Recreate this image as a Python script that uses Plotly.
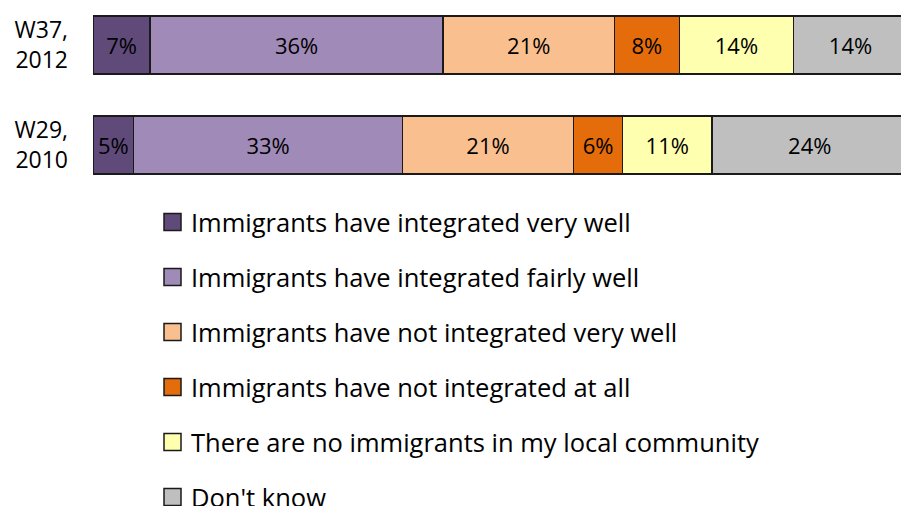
import plotly.graph_objects as go

# Survey waves (top row first in the chart)
waves = ["W37,<br>2012", "W29,<br>2010"]

# Answer categories, in stacking order
answers = [
    "Immigrants have integrated very well",
    "Immigrants have integrated fairly well",
    "Immigrants have not integrated very well",
    "Immigrants have not integrated at all",
    "There are no immigrants in my local community",
    "Don't know",
]

# Share of respondents (%) per answer, one entry per wave
very_well = [7, 5]
fairly_well = [36, 33]
not_very_well = [21, 21]
not_at_all = [8, 6]
no_immigrants = [14, 11]
dont_know = [14, 24]

colors = ["#5F4A7A", "#A08AB8", "#F9BF8F", "#E46C0A", "#FFFFB0", "#BFBFBF"]
series = [very_well, fairly_well, not_very_well, not_at_all, no_immigrants, dont_know]

FONT = "Open Sans"
OUTLINE = "#1a1a1a"

# Layout geometry (pixels)
W, H = 901, 506
M_L, M_T, PLOT_H = 93, 0, 190
PLOT_W = W - M_L

fig = go.Figure()
for name, vals, col in zip(answers, series, colors):
    fig.add_trace(go.Bar(
        y=waves,
        x=vals,
        name=name,
        orientation="h",
        width=0.58,
        marker=dict(color=col, line=dict(color=OUTLINE, width=1.5)),
        text=[f"{v}%" for v in vals],
        textposition="inside",
        insidetextanchor="middle",
        textangle=0,
        constraintext="none",
        insidetextfont=dict(family=FONT, size=22, color="#000000"),
        showlegend=False,
        hoverinfo="skip",
    ))

# Legend drawn below the bars: one swatch + label per answer
legend_rows_px = [222, 277, 332, 387, 442, 497]
sw_x0, sw_x1, label_x = 164, 181, 189
sw_half = 8.5


def px_x(px):
    return (px - M_L) / PLOT_W


def px_y(py):
    return (M_T + PLOT_H - py) / PLOT_H


shapes, annotations = [], []
for name, col, cy in zip(answers, colors, legend_rows_px):
    shapes.append(dict(
        type="rect", xref="paper", yref="paper",
        x0=px_x(sw_x0), x1=px_x(sw_x1),
        y0=px_y(cy + sw_half), y1=px_y(cy - sw_half),
        fillcolor=col, line=dict(color=OUTLINE, width=1.5),
        layer="above",
    ))
    annotations.append(dict(
        xref="paper", yref="paper",
        x=px_x(label_x), y=px_y(cy),
        xanchor="left", yanchor="middle",
        text=name, showarrow=False,
        font=dict(family=FONT, size=25.5, color="#000000"),
    ))

fig.update_layout(
    width=W,
    height=H,
    barmode="stack",
    plot_bgcolor="white",
    paper_bgcolor="white",
    margin=dict(l=M_L, r=0, t=M_T, b=H - M_T - PLOT_H, autoexpand=False),
    font=dict(family=FONT, color="#000000"),
    showlegend=False,
    shapes=shapes,
    annotations=annotations,
    xaxis=dict(
        range=[0, 99.2],
        visible=False,
        fixedrange=True,
    ),
    yaxis=dict(
        type="category",
        categoryorder="array",
        categoryarray=waves[::-1],
        range=[-0.45, 1.45],
        showline=False,
        showgrid=False,
        ticks="",
        ticklabelstandoff=24,
        tickfont=dict(family=FONT, size=23, color="#000000"),
        fixedrange=True,
    ),
)

fig.write_html("out.html")
